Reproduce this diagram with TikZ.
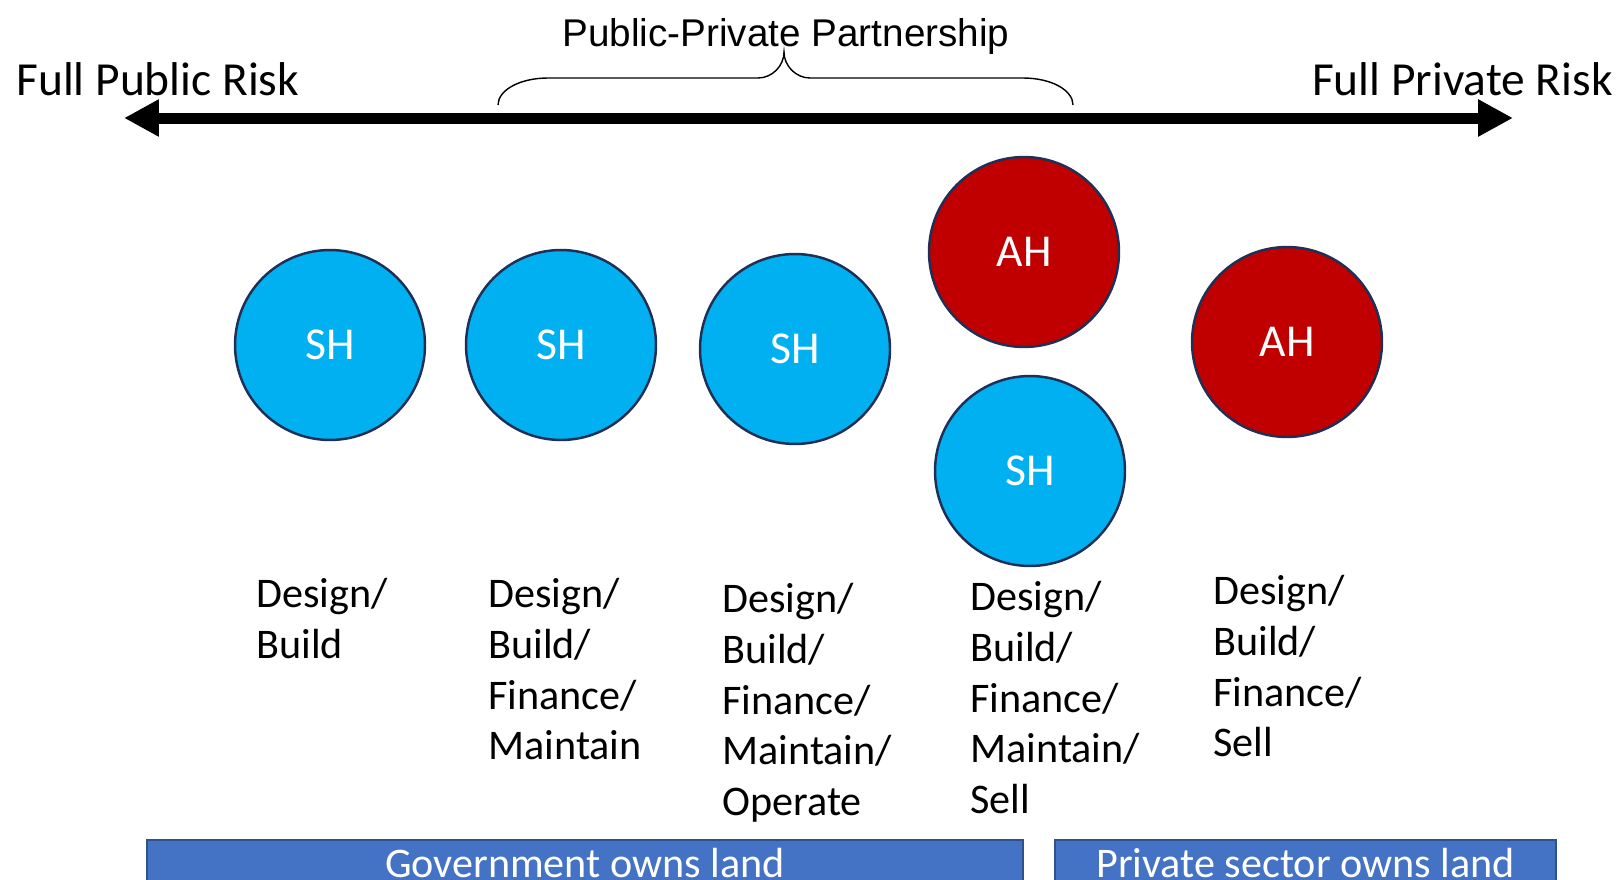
\documentclass[tikz,border=0pt]{standalone}
\usepackage{fontspec}
\setmainfont{Carlito}
\newfontfamily\titlefont{Liberation Sans}
\usetikzlibrary{arrows.meta}

\definecolor{shblue}{HTML}{00B0F0}
\definecolor{ahred}{HTML}{C00000}
\definecolor{rimnavy}{HTML}{1F2F55}
\definecolor{barblue}{HTML}{4472C4}
\definecolor{barrim}{HTML}{2F528F}

\begin{document}
\begin{tikzpicture}[
     x=0.02cm, y=-0.02cm,
     house/.style={circle,draw=rimnavy,line width=1.4pt,minimum size=3.8cm,
       inner sep=0pt,text=white,font=\fontsize{26}{30}\selectfont},
     sh/.style={house,fill=shblue},
     ah/.style={house,fill=ahred},
     model/.style={anchor=north west,align=left,inner sep=0pt,
       font=\fontsize{24}{28.9}\selectfont},
     land/.style={draw=barrim,line width=1.2pt,fill=barblue,text=white,
       anchor=north west,minimum height=0.9cm,inner sep=0pt,
       font=\fontsize{24}{28}\selectfont},
     risk/.style={inner sep=0pt,font=\fontsize{27}{32}\selectfont}
   ]
   \path[use as bounding box,clip] (0,0) rectangle (1621,879);
   % Risk scale.
   \coordinate (public) at (124,118);
   \coordinate (private) at (1513,118);
   \draw[line width=0.22cm,{Triangle[length=0.7cm,width=0.7cm]}-{Triangle[length=0.7cm,width=0.7cm]}]
     (public) -- (private);
   \node[risk,anchor=base west] (publicrisk) at (16,95) {Full Public Risk};
   \node[risk,anchor=base east] (privaterisk) at (1613,95) {Full Private Risk};
   % Partnership brace.
   \coordinate (braceL) at (498,105);
   \coordinate (braceR) at (1073,105);
   \coordinate (braceTip) at (784,52);
   \draw[line width=0.8pt] (braceL) .. controls (498,90) and (520,78) .. (548,78)
     -- (758,78) .. controls (772,78) and (784,66) .. (braceTip)
     .. controls (784,66) and (796,78) .. (810,78)
     -- (1023,78) .. controls (1051,78) and (1073,90) .. (braceR);
   \node[inner sep=0pt,anchor=base,font=\titlefont\fontsize{22}{26}\selectfont]
     (ppp) at (786,46) {Public-Private Partnership};
   % Housing circles.
   \node[sh] (sh1) at (330,345) {SH};
   \node[sh] (sh2) at (561,345) {SH};
   \node[sh] (sh3) at (795,349) {SH};
   \node[ah] (ah1) at (1024,252) {AH};
   \node[sh] (sh4) at (1030,471) {SH};
   \node[ah] (ah2) at (1287,342) {AH};
   % Delivery models.
   \node[model] (db) at (256,578) {Design/\\Build};
   \node[model] (dbfm) at (488,578) {Design/\\Build/\\Finance/\\Maintain};
   \node[model] (dbfmo) at (722,583) {Design/\\Build/\\Finance/\\Maintain/\\Operate};
   \node[model] (dbfms) at (970,581) {Design/\\Build/\\Finance/\\Maintain/\\Sell};
   \node[model] (dbfs) at (1213,575) {Design/\\Build/\\Finance/\\Sell};
   % Land ownership.
   \node[land,minimum width=17.52cm] (govland) at (146,839) {Government owns land};
   \node[land,minimum width=10.02cm] (privland) at (1054,839) {Private sector owns land};
 \end{tikzpicture}
\end{document}
